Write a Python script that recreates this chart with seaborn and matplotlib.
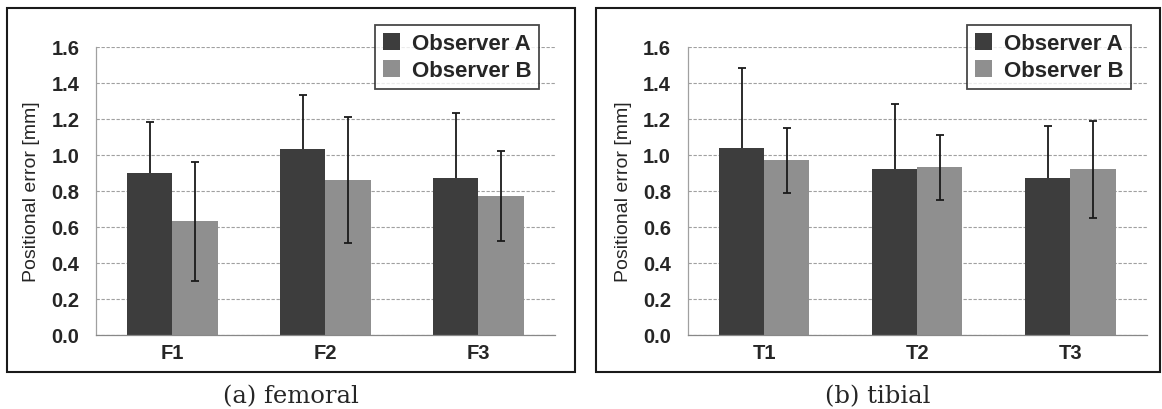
import pandas as pd
import matplotlib
matplotlib.use("Agg")
import matplotlib.pyplot as plt
import seaborn as sns
from matplotlib.patches import Rectangle

# values (mean and SD, mm)
femoral_sites = ["F1", "F2", "F3"]
femoral_obs_a = [0.90, 1.03, 0.87]
femoral_obs_b = [0.63, 0.86, 0.77]
femoral_sd_a = [0.28, 0.30, 0.36]
femoral_sd_b = [0.33, 0.35, 0.25]

tibial_sites = ["T1", "T2", "T3"]
tibial_obs_a = [1.04, 0.92, 0.87]
tibial_obs_b = [0.97, 0.93, 0.92]
tibial_sd_a = [0.44, 0.36, 0.29]
tibial_sd_b = [0.18, 0.18, 0.27]

observers = ["Observer A", "Observer B"]
y_ticks = [0.0, 0.2, 0.4, 0.6, 0.8, 1.0, 1.2, 1.4, 1.6]
captions = ["(a) femoral", "(b) tibial"]

colors = {"Observer A": "#3d3d3d", "Observer B": "#8f8f8f"}
grid_col = "#a0a0a0"


def make_df(sites, a, b):
    return pd.DataFrame({
        "site": sites * 2,
        "observer": [observers[0]] * len(sites) + [observers[1]] * len(sites),
        "error": a + b,
    })


def draw_panel(ax, sites, a, b, sd_a, sd_b):
    df = make_df(sites, a, b)
    sns.barplot(data=df, x="site", y="error", hue="observer", order=sites,
                hue_order=observers, palette=colors, width=0.59, saturation=1,
                errorbar=None, linewidth=0, ax=ax, zorder=2)

    # error bars; the dark bars hide the lower half of observer A's whiskers
    for cont, sd, z in zip(ax.containers, [sd_a, sd_b], [1.5, 3]):
        xs = [p.get_x() + p.get_width() / 2 for p in cont.patches]
        ys = [p.get_height() for p in cont.patches]
        ax.errorbar(xs, ys, yerr=sd, fmt="none", ecolor="#1a1a1a",
                    elinewidth=1.3, capsize=3, capthick=1.3, zorder=z)

    ax.set_ylim(0, 1.6)
    ax.set_xlim(-0.5, len(sites) - 0.5)
    ax.set_yticks(y_ticks)
    ax.set_yticklabels([f"{t:.1f}" for t in y_ticks], fontweight="bold", fontsize=14.5)
    ax.set_xticks(range(len(sites)))
    ax.set_xticklabels(sites, fontweight="bold", fontsize=14.5)
    ax.set_xlabel("")
    ax.set_ylabel("Positional error [mm]", fontsize=14, labelpad=8)

    ax.grid(axis="y", color=grid_col, linewidth=0.8, linestyle=(0, (3, 1.5)), zorder=0)
    ax.grid(axis="x", visible=False)
    ax.set_axisbelow(True)
    for s in ["top", "right"]:
        ax.spines[s].set_visible(False)
    ax.spines["left"].set_color(grid_col)
    ax.spines["left"].set_linewidth(0.9)
    ax.spines["bottom"].set_color("#888888")
    ax.spines["bottom"].set_linewidth(0.9)
    ax.tick_params(axis="y", length=4, color=grid_col, pad=8)
    ax.tick_params(axis="x", length=0, pad=6)

    leg = ax.legend(loc="upper right", bbox_to_anchor=(0.965, 1.075),
                    fontsize=16, frameon=True, fancybox=False, handlelength=0.8,
                    handleheight=0.8, handletextpad=0.5, borderpad=0.35,
                    labelspacing=0.25, borderaxespad=0)
    leg.get_frame().set_edgecolor("#1a1a1a")
    leg.get_frame().set_linewidth(1.3)
    for t in leg.get_texts():
        t.set_fontweight("bold")


sns.set_theme(style="white")
plt.rcParams["font.family"] = ["Liberation Sans", "DejaVu Sans"]

fig = plt.figure(figsize=(11.62, 4.10), dpi=100)
ax1 = fig.add_axes([0.0826, 0.1812, 0.3950, 0.7024])
ax2 = fig.add_axes([0.5917, 0.1812, 0.3954, 0.7024])

draw_panel(ax1, femoral_sites, femoral_obs_a, femoral_obs_b, femoral_sd_a, femoral_sd_b)
draw_panel(ax2, tibial_sites, tibial_obs_a, tibial_obs_b, tibial_sd_a, tibial_sd_b)

# outer frames around each chart
boxes = [(0.0056, 0.4892), (0.5129, 0.4855)]
for (x0, w), cap in zip(boxes, captions):
    fig.patches.append(Rectangle((x0, 0.091), w, 0.888, transform=fig.transFigure,
                                 fill=False, edgecolor="#1a1a1a", linewidth=1.5))
    fig.text(x0 + w / 2, 0.032, cap, ha="center", va="center", fontsize=17.5,
             family=["DejaVu Serif"])

fig.savefig("out.png", dpi=100)
